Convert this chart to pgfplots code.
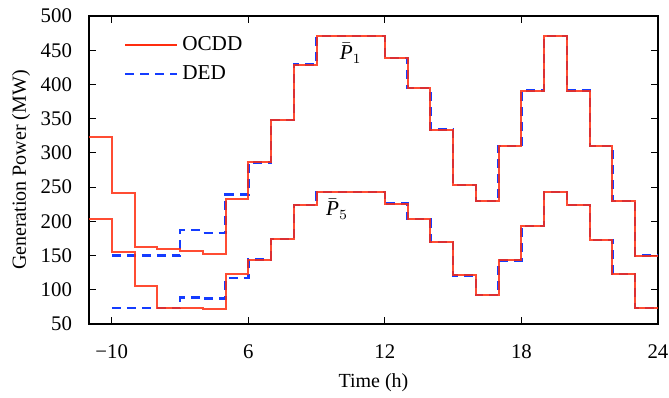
\documentclass[border=0pt]{standalone}
\usepackage{fontspec}
\setmainfont{Liberation Serif}
\usepackage{pgfplots}
\pgfplotsset{compat=1.18}
\definecolor{ocdd}{RGB}{255,45,15}
\definecolor{ded}{RGB}{20,60,255}
\begin{document}
\begin{tikzpicture}
\begin{axis}[
  scale only axis,
  width=284.5pt, height=154pt,
  xmin=-1, xmax=24, ymin=50, ymax=500,
  xtick={0,6,12,18,24},
  xticklabels={−10,6,12,18,24},
  ytick={50,100,...,500},
  /pgf/number format/assume math mode=true,
  tick label style={font=\fontsize{10.4}{12}\selectfont},
  xticklabel style={anchor=center, yshift=-14pt},
  yticklabel style={anchor=east, xshift=-5pt},
  label style={font=\fontsize{10.4}{12}\selectfont},
  xlabel={Time (h)},
  ylabel={Generation Power (MW)},
  every axis x label/.style={at={(axis description cs:0.5,0)}, anchor=center, yshift=-29.5pt},
  every axis y label/.style={at={(axis description cs:0,0.5)}, rotate=90, anchor=center, yshift=34pt},
  major tick length=3.3pt,
  axis line style={line width=0.6pt},
  every tick/.style={line width=0.5pt, black},
  legend style={at={(0.05,0.96)}, anchor=north west, draw=none, fill=none,
    font=\fontsize{10.6}{12}\selectfont, row sep=2pt},
  legend cell align=left,
  legend image code/.code={\draw[#1] (0pt,0pt) -- (26pt,0pt);},
]
% legend entries
\addlegendimage{ocdd, line width=1pt}
\addlegendentry{OCDD}
\addlegendimage{ded, line width=1.2pt, dash pattern=on 4.5pt off 3pt}
\addlegendentry{DED}
% DED P1
\addplot[const plot, no marks, ded, line width=1.2pt, dash pattern=on 4.5pt off 3pt, forget plot] coordinates {
(0,150)(1,150)(2,150)(3,187)(4,183)(5,239)(6,286)(7,348)(8,429)(9,471)(10,471)(11,471)(12,439)(13,395)(14,334)(15,253)(16,230)(17,310)(18,391)(19,471)(20,391)(21,310)(22,230)(23,150)(24,150)};
% DED P5
\addplot[const plot, no marks, ded, line width=1.2pt, dash pattern=on 4.5pt off 3pt, forget plot] coordinates {
(0,73)(1,73)(2,73)(3,89)(4,87)(5,117)(6,144)(7,174)(8,224)(9,243)(10,243)(11,243)(12,226)(13,203)(14,170)(15,121)(16,92)(17,143)(18,193)(19,243)(20,224)(21,173)(22,123)(23,73)(24,73)};
% OCDD P1
\addplot[const plot, no marks, ocdd, line width=1pt, opacity=0.85, forget plot] coordinates {
(-1,323)(0,242)(1,162)(2,160)(3,157)(4,153)(5,233)(6,286)(7,348)(8,429)(9,471)(10,471)(11,471)(12,439)(13,395)(14,334)(15,253)(16,230)(17,310)(18,391)(19,471)(20,391)(21,310)(22,230)(23,150)(24,150)};
% OCDD P5
\addplot[const plot, no marks, ocdd, line width=1pt, opacity=0.85, forget plot] coordinates {
(-1,204)(0,155)(1,105)(2,74)(3,73)(4,72)(5,123)(6,144)(7,174)(8,224)(9,243)(10,243)(11,243)(12,226)(13,203)(14,170)(15,121)(16,92)(17,143)(18,193)(19,243)(20,224)(21,173)(22,123)(23,73)(24,73)};
\node[font=\fontsize{10.6}{12}\selectfont] at (axis cs:10.5,446) {$\bar{\mbox{\itshape P}}_1$};
\node[font=\fontsize{10.6}{12}\selectfont] at (axis cs:9.9,218) {$\bar{\mbox{\itshape P}}_5$};
\end{axis}
\pgfresetboundingbox
\path (current axis.south west) ++(-44.5pt,-36.5pt) rectangle ++(334.5pt,198.5pt);
\end{tikzpicture}
\end{document}
